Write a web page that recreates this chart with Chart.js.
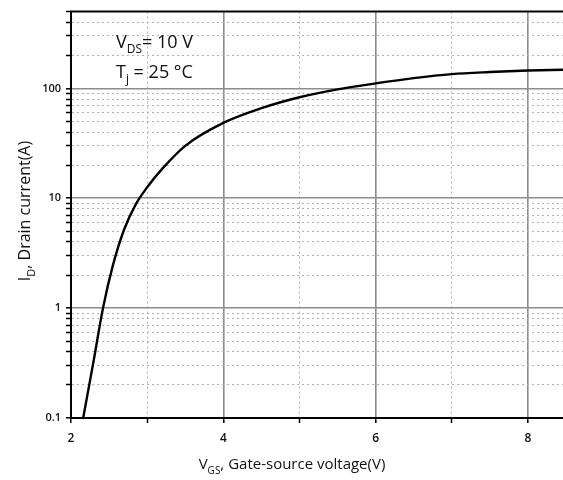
<!DOCTYPE html>
<html>
<head>
<meta charset="utf-8">
<script src="https://cdn.jsdelivr.net/npm/chart.js@4.4.1/dist/chart.umd.min.js"></script>
<style>
  html, body { margin: 0; padding: 0; background: #fff; }
  #wrap { width: 563px; height: 480px; }
</style>
</head>
<body>
<div id="wrap"><canvas id="chart"></canvas></div>
<script>
// transfer characteristic
const vgs = [2.16, 2.3, 2.42, 2.55, 2.7, 2.85, 3.0, 3.2, 3.5, 4.0, 4.5, 5.0, 5.5, 6.0, 6.5, 7.0, 7.5, 8.0, 8.46];
const drainCurrent = [0.1, 0.34, 1.0, 2.45, 5.25, 8.8, 12.6, 18.6, 30, 48.5, 66, 83, 98, 111, 124, 135, 141, 145.5, 148];

const xTickLabels = [2, 4, 6, 8];
const yTickLabels = [0.1, 1, 10, 100];
const xRange = [2, 8.46];
const yRange = [0.1, 500];

// minor log ticks 0.1 .. 500
const yTicks = [];
for (const dec of [0.1, 1, 10, 100]) {
    for (let m = 1; m <= 9; m++) {
        const v = +(dec * m).toPrecision(3);
        if (v <= yRange[1]) yTicks.push(v);
    }
}

const isDecade = v => yTickLabels.some(d => Math.abs(d - v) < 1e-9);
const FONT = '"Open Sans", "DejaVu Sans", sans-serif';

// draws text with subscript parts, e.g. [['V'], ['DS', true], ['= 10 V']]
function drawRich(ctx, parts, x, y, size, align) {
    const subSize = Math.round(size * 0.68);
    let total = 0;
    parts.forEach(p => {
        ctx.font = `${p[1] ? subSize : size}px ${FONT}`;
        total += ctx.measureText(p[0]).width;
    });
    let cx = align === 'center' ? x - total / 2 : x;
    ctx.textAlign = 'left';
    ctx.textBaseline = 'alphabetic';
    parts.forEach(p => {
        ctx.font = `${p[1] ? subSize : size}px ${FONT}`;
        ctx.fillText(p[0], cx, p[1] ? y + size * 0.3 : y);
        cx += ctx.measureText(p[0]).width;
    });
}

const extras = {
    id: 'extras',
    afterDraw(chart) {
        const { ctx, chartArea } = chart;
        ctx.save();
        // top frame line
        ctx.strokeStyle = '#000';
        ctx.lineWidth = 2;
        ctx.beginPath();
        ctx.moveTo(chartArea.left - 1, chartArea.top);
        ctx.lineTo(chartArea.right, chartArea.top);
        ctx.stroke();

        ctx.fillStyle = '#111';
        drawRich(ctx, [['V'], ['DS', true], ['= 10 V']], 116, 48, 18);
        drawRich(ctx, [['T'], ['j', true], [' = 25 °C']], 116, 78, 18);

        // axis titles
        drawRich(ctx, [['V'], ['GS', true], [', Gate-source voltage(V)']], 292, 469, 15, 'center');
        ctx.translate(30, 211);
        ctx.rotate(-Math.PI / 2);
        drawRich(ctx, [['I'], ['D', true], [', Drain current(A)']], 0, 0, 16, 'center');
        ctx.restore();
    }
};

const xMajor = c => xTickLabels.includes(c.tick && c.tick.value);
const yMajor = c => isDecade(c.tick && c.tick.value);

new Chart(document.getElementById('chart'), {
    type: 'line',
    data: {
        datasets: [{
            data: vgs.map((v, i) => ({ x: v, y: drainCurrent[i] })),
            borderColor: '#000',
            borderWidth: 2.4,
            pointRadius: 0,
            cubicInterpolationMode: 'monotone',
            clip: false
        }]
    },
    options: {
        responsive: true,
        maintainAspectRatio: false,
        animation: false,
        layout: { padding: { top: 9, left: 0, right: 0, bottom: 0 } },
        plugins: { legend: { display: false }, tooltip: { enabled: false } },
        scales: {
            x: {
                type: 'linear',
                min: xRange[0],
                max: xRange[1],
                afterFit: s => { s.height = 62; },
                ticks: {
                    stepSize: 1,
                    includeBounds: false,
                    autoSkip: false,
                    maxRotation: 0,
                    padding: 8,
                    color: '#111',
                    font: { family: FONT, size: 12, weight: '600' },
                    callback: v => xTickLabels.includes(v) ? String(v) : ''
                },
                grid: {
                    color: c => {
                        if (c.tick && c.tick.value === 2) return 'rgba(0,0,0,0)';
                        return xMajor(c) ? '#8c8c8c' : '#b0b0b0';
                    },
                    lineWidth: c => xMajor(c) ? 1.6 : 1,
                    tickColor: '#000',
                    tickLength: 5,
                    tickWidth: 1.5,
                    tickBorderDash: []
                },
                border: {
                    color: '#000',
                    width: 2,
                    dash: c => (c.tick && !xMajor(c)) ? [2, 3] : []
                }
            },
            y: {
                type: 'logarithmic',
                min: yRange[0],
                max: yRange[1],
                afterFit: s => { s.width = 71; },
                afterBuildTicks: s => { s.ticks = yTicks.map(v => ({ value: v, major: isDecade(v) })); },
                ticks: {
                    autoSkip: false,
                    padding: 5,
                    color: '#111',
                    font: { family: FONT, size: 11, weight: '600' },
                    callback: v => isDecade(v) ? String(v) : ''
                },
                grid: {
                    color: c => {
                        if (c.tick && c.tick.value === 0.1) return 'rgba(0,0,0,0)';
                        return yMajor(c) ? '#8c8c8c' : '#b0b0b0';
                    },
                    lineWidth: c => yMajor(c) ? 1.6 : 1,
                    tickColor: '#000',
                    tickLength: 5,
                    tickWidth: 1.5,
                    tickBorderDash: []
                },
                border: {
                    color: '#000',
                    width: 2,
                    dash: c => (c.tick && !yMajor(c)) ? [2, 3] : []
                }
            }
        }
    },
    plugins: [extras]
});
</script>
</body>
</html>
